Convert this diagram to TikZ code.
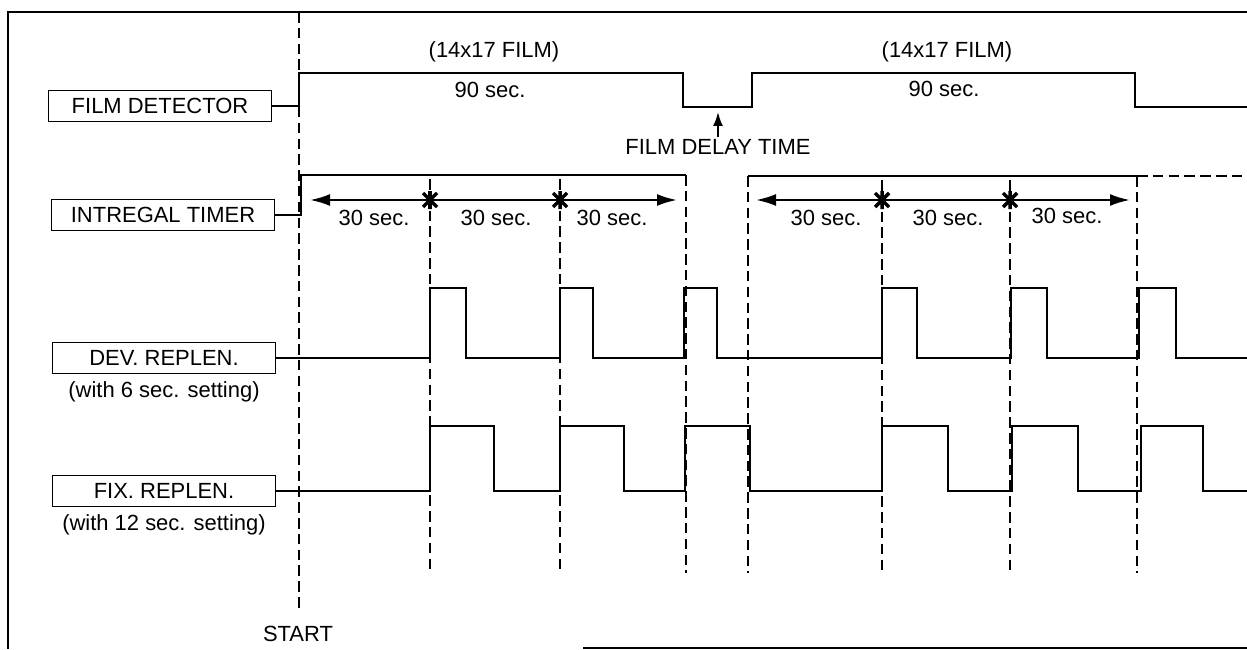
\documentclass[tikz,border=0pt]{standalone}
\usepackage{fontspec}
\setmainfont{Liberation Sans}
\usetikzlibrary{arrows.meta,positioning}
\tikzset{
  sig/.style={line width=1.15pt},
  guide/.style={line width=1.3pt,dash pattern=on 6pt off 3pt},
  lbl/.style={draw,line width=0.8pt,minimum width=4.46cm,minimum height=0.62cm,inner sep=0pt,font=\fontsize{12.5}{14}\selectfont},
  txt/.style={font=\fontsize{12.5}{14}\selectfont,inner sep=1pt},
  span/.style={line width=1.4pt,{Latex[length=4mm,width=2.4mm]}-{Latex[length=4mm,width=2.4mm]}},
  xmark/.pic={\draw[line width=2pt] (-7,-7) -- (7,7) (-7,7) -- (7,-7) (0,-9) -- (0,9);}
}
\begin{document}
\begin{tikzpicture}[x=0.02cm,y=-0.02cm]
\useasboundingbox (0,0) rectangle (1247,649);
\draw[line width=1.1pt] (1247,12) -- (8,12) -- (8,649);
\draw[line width=1.1pt] (583,648) -- (1247,648);
\node[lbl] (fd) at (160,106) {FILM DETECTOR};
\node[lbl] (it) at (163,215) {INTREGAL TIMER};
\node[lbl] (dev) at (164,358) {DEV. REPLEN.};
\node[txt,below=1mm of dev] (devset) {(with 6 sec. setting)};
\node[lbl] (fix) at (164,491) {FIX. REPLEN.};
\node[txt,below=1mm of fix] (fixset) {(with 12 sec. setting)};
\coordinate (start) at (299,12);
\coordinate (startend) at (299,612);
\node[txt] (startlbl) at (298,634) {START};
\draw[guide] (start) -- (startend);
\foreach \x/\y in {430/179,560/179,686/175,748/176,882/180,1010/180,1137/176}
  \draw[guide] (\x,\y) -- (\x,573);
\draw[sig] (fd.east) -- (299,106) |- (683,73) |- (752,107) |- (1135,73) |- (1247,107);
\node[txt] (film1) at (494,52) {(14x17 FILM)};
\node[txt] (film2) at (947,52) {(14x17 FILM)};
\node[txt] (t90a) at (490,90) {90 sec.};
\node[txt] (t90b) at (944,89) {90 sec.};
\node[txt] (delay) at (718,147) {FILM DELAY TIME};
\draw[line width=1.1pt,-{Latex[length=2.8mm,width=2mm]}] (delay.north) -- (718,112);
\draw[sig] (it.east) -- (301,215) |- (686,175);
\draw[sig] (748,176) -- (1137,176);
\draw[guide] (1137,176) -- (1247,176);
\draw[span] (310,200) -- (677,200);
\draw[span] (756,200) -- (1130,200);
\foreach \x in {430,560,882,1010}
  \pic at (\x,200) {xmark};
\foreach \x/\y in {374/218,496/218,612/218,826/218,948/218,1067/216}
  \node[txt] at (\x,\y) {30 sec.};
\draw[sig] (dev.east) -- (430,358) |- (466,288) |- (560,358) |- (593,288) |- (684,358) |- (717,288) |- (882,358) |- (917,288) |- (1011,358) |- (1047,288) |- (1139,358) |- (1176,288) |- (1247,358);
\draw[sig] (fix.east) -- (430,491) |- (494,426) |- (560,491) |- (624,426) |- (685,491) |- (750,426) |- (882,491) |- (948,426) |- (1012,491) |- (1078,426) |- (1141,491) |- (1203,426) |- (1247,491);
\end{tikzpicture}
\end{document}
